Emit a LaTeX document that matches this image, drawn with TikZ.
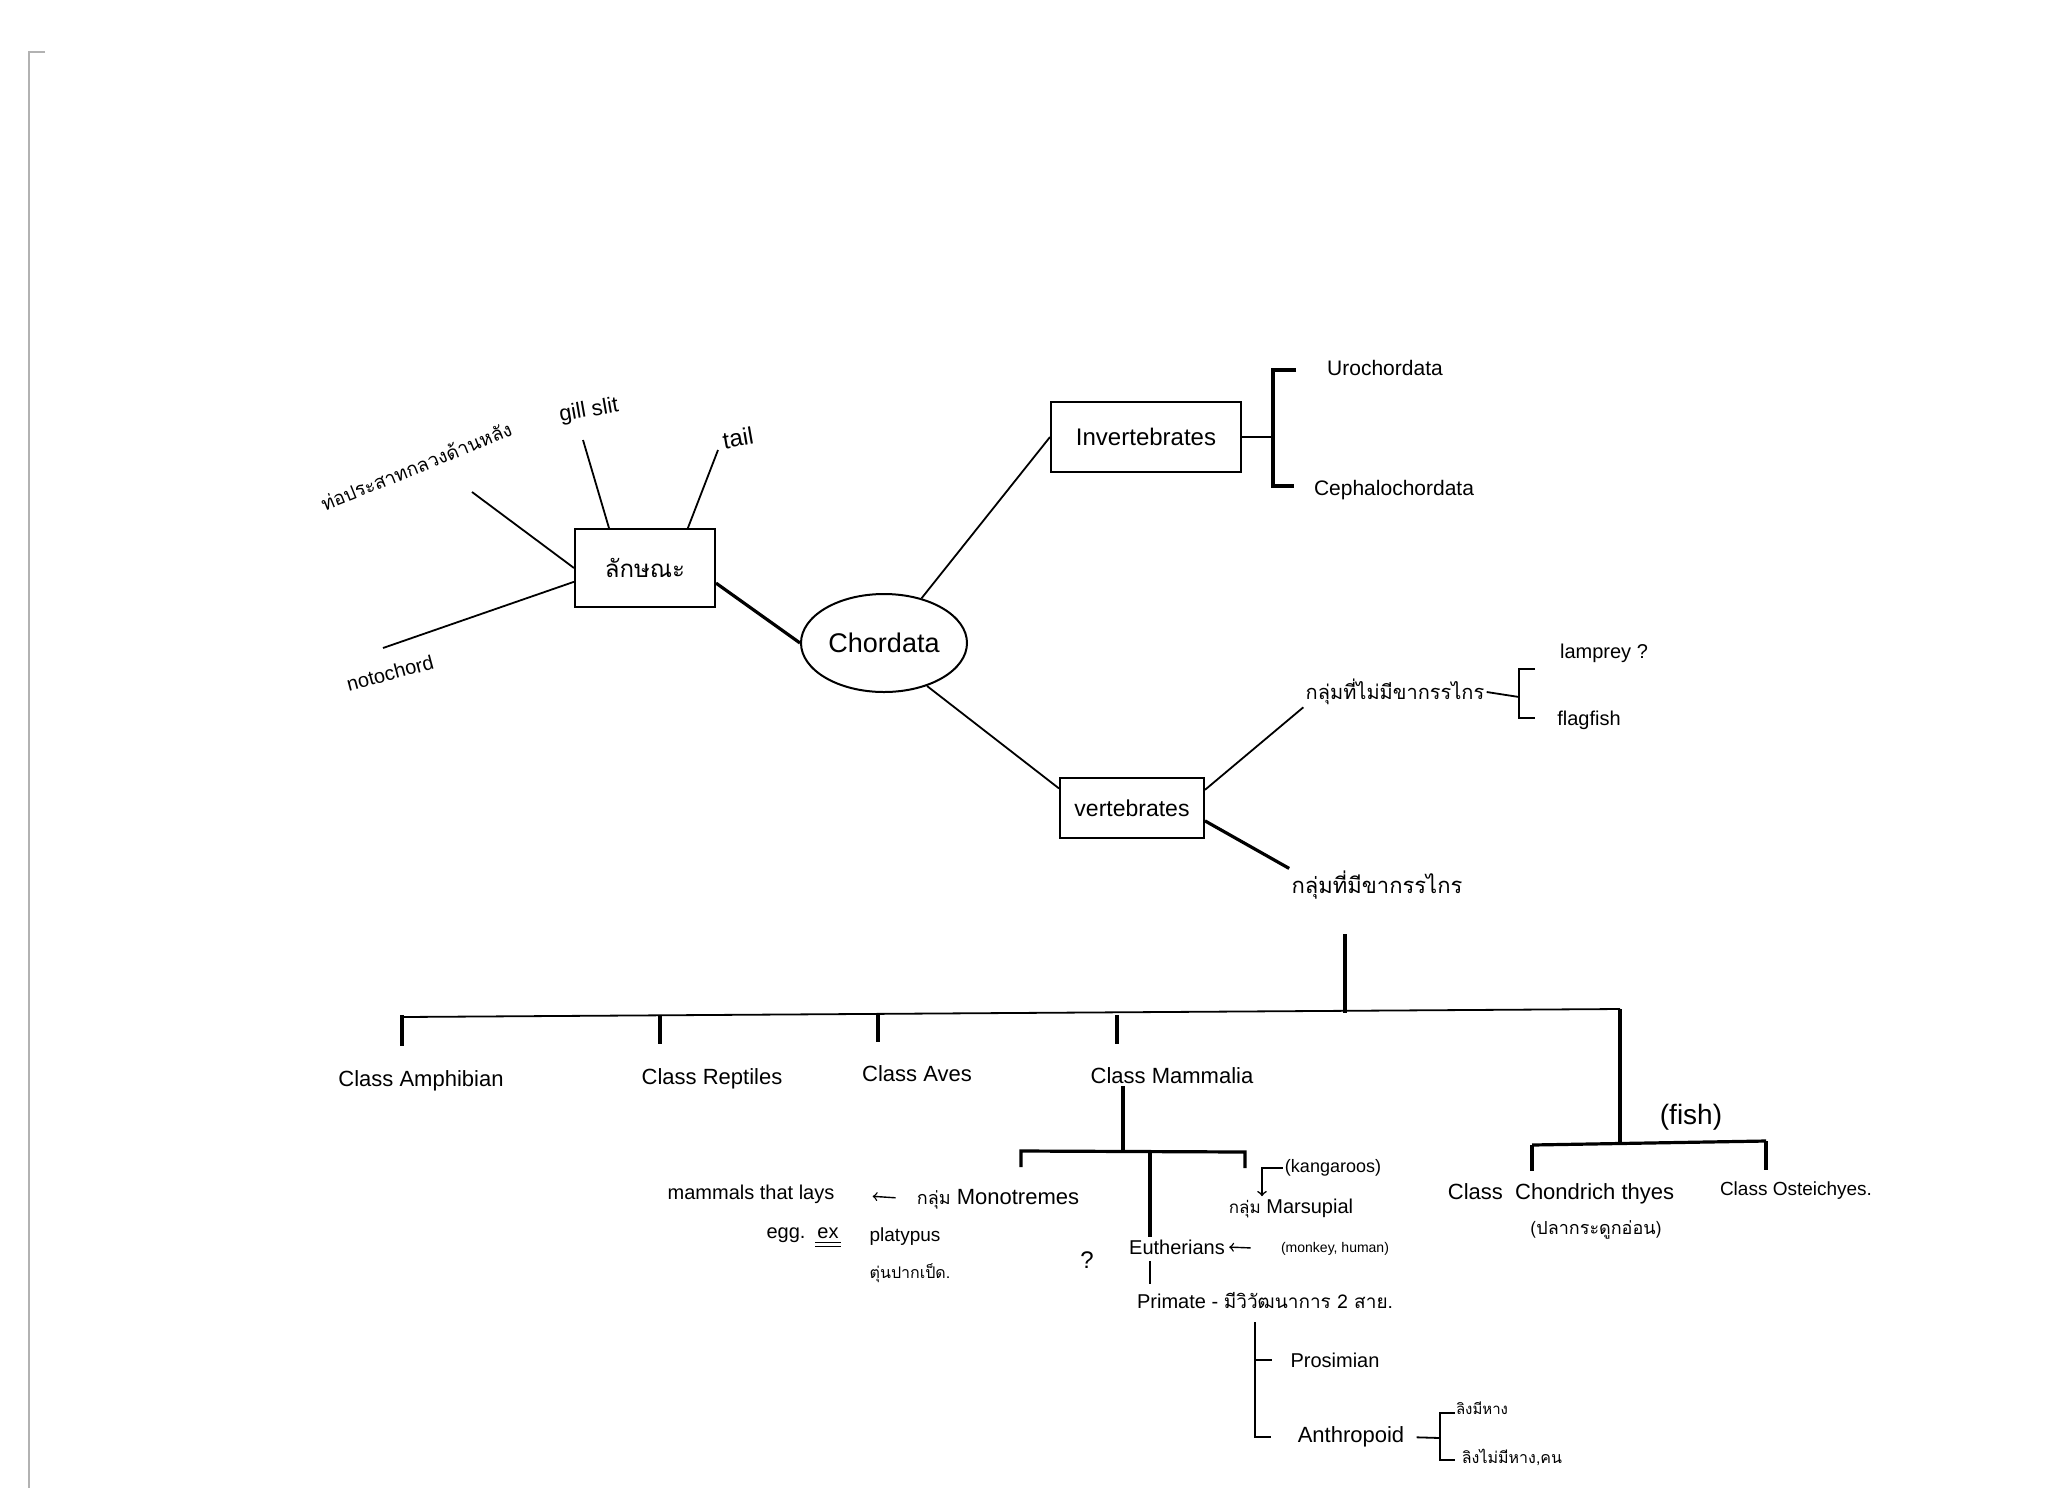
\documentclass[tikz,border=0pt]{standalone}
\usepackage{fontspec}
\setmainfont{Liberation Sans}
\newfontfamily\thaifont[Script=Thai]{Loma}
\usetikzlibrary{shapes.geometric}

\begin{document}
\begin{tikzpicture}[x=0.5pt, y=-0.5pt,
  every node/.style={inner sep=1pt, font=\fontsize{10}{12}\selectfont},
  box/.style={draw, shape=rectangle, line width=1pt},
  th/.style={font=\thaifont\fontsize{10}{12}\selectfont},
  line/.style={line width=0.9pt},
  heavy/.style={line width=1.6pt}]
\useasboundingbox (0,0) rectangle (2048,1488);
\draw[black!30, line width=0.6pt] (45,52) -- (29,52) -- (29,1488);

\node[box, minimum width=70pt, minimum height=39pt, th, font=\thaifont\fontsize{12}{14}\selectfont] (trait) at (645,568) {ลักษณะ};
\node[th, rotate=22, font=\thaifont\fontsize{9.5}{11}\selectfont] (nerve) at (416,466) {ท่อประสาทกลวงด้านหลัง};
\node[rotate=10, font=\fontsize{11}{13}\selectfont] (gill) at (589,411) {gill slit};
\node[rotate=10, font=\fontsize{12}{14}\selectfont] (tail) at (738,438) {tail};
\node[rotate=15] (noto) at (390,673) {notochord};
\coordinate (nerveEnd) at (472,492);
\coordinate (gillEnd) at (583,440);
\coordinate (tailEnd) at (718,450);
\coordinate (notoEnd) at (383,648);
\draw[line] (trait.west) -- (nerveEnd);
\draw[line] (trait.132) -- (gillEnd);
\draw[line] (trait.43) -- (tailEnd);
\draw[line] (trait.191) -- (notoEnd);

\node[draw, ellipse, line width=1pt, minimum width=83pt, minimum height=49pt, font=\fontsize{13.5}{15}\selectfont] (chordata) at (884,643) {Chordata};
\draw[heavy] (trait.348) -- (chordata.west);

\node[box, minimum width=95pt, minimum height=35pt, font=\fontsize{12}{14}\selectfont] (invert) at (1146,437) {Invertebrates};
\node[box, minimum width=72pt, minimum height=30pt, font=\fontsize{11.5}{13}\selectfont] (vert) at (1132,808) {vertebrates};
\draw[line] (chordata.50) -- (invert.west);
\draw[line] (chordata.-45) -- (vert.165);

\node[font=\fontsize{10.5}{12}\selectfont] (uro) at (1385,368) {Urochordata};
\node[font=\fontsize{10.5}{12}\selectfont] (ceph) at (1394,490) {Cephalochordata};
\coordinate (invJ) at (1273,437);
\coordinate (uroTick) at (1296,370);
\coordinate (cephTick) at (1294,486);
\draw[line] (invert.east) -- (invJ);
\draw[heavy] (uroTick) -| (invJ) |- (cephTick);

\node[th] (jawless) at (1395,692) {กลุ่มที่ไม่มีขากรรไกร};
\draw[line] (vert.14) -- (jawless.south west);
\node (lamprey) at (1604,653) {lamprey ?};
\node (flag) at (1589,720) {flagfish};
\coordinate (jlJ) at (1519,697);
\coordinate (jlTop) at (1535,669);
\coordinate (jlBot) at (1535,718);
\draw[line] (jawless.east) -- (jlJ);
\draw[line] (jlTop) -| (jlJ) |- (jlBot);

\node[th, font=\thaifont\fontsize{11}{13}\selectfont] (jawed) at (1377,885) {กลุ่มที่มีขากรรไกร};
\draw[heavy] (vert.350) -- (jawed.north west);
\coordinate (jawTop) at (1345,934);
\coordinate (jawJ) at (1345,1013);
\draw[heavy] (jawTop) -- (jawJ);

\coordinate (barL) at (402,1017);
\coordinate (barR) at (1620,1009);
\coordinate (fishJ) at (1620,1143);
\draw[line] (barL) -- (barR);
\draw[heavy] (barR) -- (fishJ);

\node[font=\fontsize{11}{13}\selectfont] (amph) at (421,1081) {Class Amphibian};
\node[font=\fontsize{11}{13}\selectfont] (rept) at (712,1079) {Class Reptiles};
\node[font=\fontsize{11}{13}\selectfont] (aves) at (917,1074) {Class Aves};
\node[font=\fontsize{11}{13}\selectfont] (mamm) at (1172,1076) {Class Mammalia};
\foreach \n/\x in {amph/402, rept/660, aves/878, mamm/1117} {
  \coordinate (t\n) at (\x,1015);
  \draw[heavy, shorten >=11pt] (t\n) -- (t\n |- \n.north);
}

\node[font=\fontsize{14}{16}\selectfont] (fish) at (1691,1117) {(fish)};
\node[font=\fontsize{11}{13}\selectfont] (chond) at (1561,1194) {Class\ \ Chondrich thyes};
\node[th, font=\thaifont\fontsize{9}{11}\selectfont] (cartil) at (1596,1230) {(ปลากระดูกอ่อน)};
\node[font=\fontsize{9.5}{11}\selectfont] (oste) at (1796,1191) {Class Osteichyes.};
\coordinate (fishL) at (1532,1145);
\coordinate (fishR) at (1766,1141);
\draw[heavy] (fishL) -- (fishR);
\draw[heavy, shorten >=5pt] (fishL) -- (fishL |- chond.north);
\draw[heavy, shorten >=5pt] (fishR) -- (fishR |- oste.north);

\coordinate (mamJ) at (1123,1152);
\coordinate (mamL) at (1021,1151);
\coordinate (mamR) at (1245,1152);
\coordinate (euJ) at (1150,1152);
\draw[heavy] (mamm.south -| mamJ) -- (mamJ);
\draw[heavy] ([yshift=-8pt]mamL) -- (mamL) -- (mamR) -- ([yshift=-8pt]mamR);

\node (lays) at (751,1194) {mammals that lays};
\node[font=\fontsize{11}{13}\selectfont] (mono) at (998,1199) {{\thaifont\fontsize{9}{11}\selectfont กลุ่ม} Monotremes};
\draw[->, line width=0.7pt, shorten <=9.5pt, shorten >=18pt] (mono.west) -- (lays.east);
\node (egg) at (786,1235) {egg.};
\node (ex) at (828,1233) {ex};
\draw[line width=0.6pt] ([yshift=-1pt]ex.south west) -- ([yshift=-1pt]ex.south east);
\draw[line width=0.6pt] ([yshift=-3pt]ex.south west) -- ([yshift=-3pt]ex.south east);
\node[font=\fontsize{9.5}{11}\selectfont] (platy) at (905,1237) {platypus};
\node[th, font=\thaifont\fontsize{8}{10}\selectfont] (platyth) at (910,1273) {ตุ่นปากเป็ด.};
\node[font=\fontsize{12}{14}\selectfont] (qmark) at (1087,1260) {?};

\node[font=\fontsize{9}{11}\selectfont] (kang) at (1333,1168) {(kangaroos)};
\node (marsu) at (1291,1208) {{\thaifont\fontsize{8.5}{10}\selectfont กลุ่ม} Marsupial};
\draw[->, line width=0.8pt] (kang.west) -| ([xshift=-14.5pt]marsu.north);

\node (euth) at (1177,1247) {Eutherians};
\node[font=\fontsize{7}{8}\selectfont] (monk) at (1335,1249) {(monkey, human)};
\draw[heavy] (euJ) -- (euJ |- euth.north);
\draw[->, line width=0.7pt, shorten <=14pt, shorten >=1pt] (monk.west) -- (euth.east);

\node (prim) at (1265,1301) {Primate - {\thaifont\fontsize{9.5}{11}\selectfont มีวิวัฒนาการ 2 สาย.}};
\draw[line, shorten <=2pt, shorten >=3pt] (euth.south -| euJ) -- (prim.north -| euJ);

\node (pros) at (1335,1360) {Prosimian};
\node[font=\fontsize{11}{13}\selectfont] (anth) at (1351,1437) {Anthropoid};
\coordinate (primJ) at (1255,1322);
\draw[line] (primJ) |- ([xshift=-12pt]anth.west);
\draw[line] (primJ |- pros.west) -- ([xshift=-8pt]pros.west);

\node[th, font=\thaifont\fontsize{7.5}{9}\selectfont] (tailed) at (1482,1408) {ลิงมีหาง};
\node[th, font=\thaifont\fontsize{8}{10}\selectfont] (apes) at (1512,1457) {ลิงไม่มีหาง,คน};
\coordinate (anJ) at (1440,1438);
\coordinate (anTop) at (1455,1413);
\coordinate (anBot) at (1455,1460);
\draw[line, shorten <=5pt] (anth.east) -- (anJ);
\draw[line] (anTop) -| (anJ) |- (anBot);
\end{tikzpicture}
\end{document}
